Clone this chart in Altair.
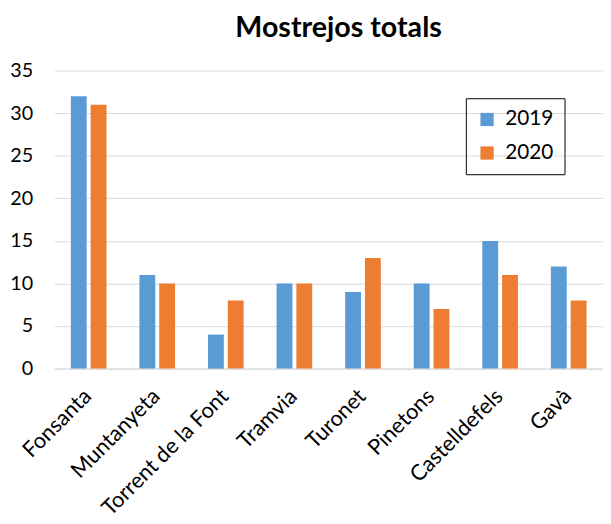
import altair as alt
import pandas as pd

categories = ["Fonsanta", "Muntanyeta", "Torrent de la Font", "Tramvia",
              "Turonet", "Pinetons", "Castelldefels", "Gavà"]
v2019 = [32, 11, 4, 10, 9, 10, 15, 12]
v2020 = [31, 10, 8, 10, 13, 7, 11, 8]
years = ["2019", "2020"]
colors = ["#5B9BD5", "#ED7D31"]

rows = []
for c, a, b in zip(categories, v2019, v2020):
    rows.append({"cat": c, "year": "2019", "value": a})
    rows.append({"cat": c, "year": "2020", "value": b})
df = pd.DataFrame(rows)

FONT = "Lato"

chart = alt.Chart(df).mark_bar().encode(
    x=alt.X("cat:N", sort=categories, title=None,
            scale=alt.Scale(paddingInner=0.48, paddingOuter=0.24),
            axis=alt.Axis(labelAngle=-45, labelFontSize=22, labelFont=FONT,
                          labelColor="#000000", ticks=False, domain=True,
                          domainColor="#D9D9D9", labelPadding=17, labelOffset=-8,
                          labelAlign="right", labelBaseline="top")),
    xOffset=alt.XOffset("year:N", sort=years, scale=alt.Scale(paddingInner=0.2)),
    y=alt.Y("value:Q", title=None,
            scale=alt.Scale(domain=[0, 35]),
            axis=alt.Axis(values=[0, 5, 10, 15, 20, 25, 30, 35], labelFontSize=20,
                          labelFont=FONT, labelColor="#000000", ticks=False,
                          domain=False, gridColor="#D9D9D9", labelPadding=22)),
    color=alt.Color("year:N", sort=years,
                    scale=alt.Scale(domain=years, range=colors),
                    legend=alt.Legend(title=None, orient="none", legendX=417, legendY=28,
                                      symbolType="square", symbolSize=180,
                                      symbolStrokeWidth=0,
                                      labelFontSize=21, labelFont=FONT,
                                      labelColor="#000000", rowPadding=12,
                                      strokeColor="#000000", padding=11,
                                      labelOffset=8)),
).properties(
    width=556, height=302,
    padding={"left": 1, "top": 3, "right": 0, "bottom": 0},
    title=alt.TitleParams("Mostrejos totals", fontSize=29, font=FONT,
                          fontWeight="bold", color="#000000", anchor="middle",
                          offset=18, dx=10),
).configure_view(stroke=None)

chart.save("out.html", embed_options={"renderer": "svg", "actions": False})
